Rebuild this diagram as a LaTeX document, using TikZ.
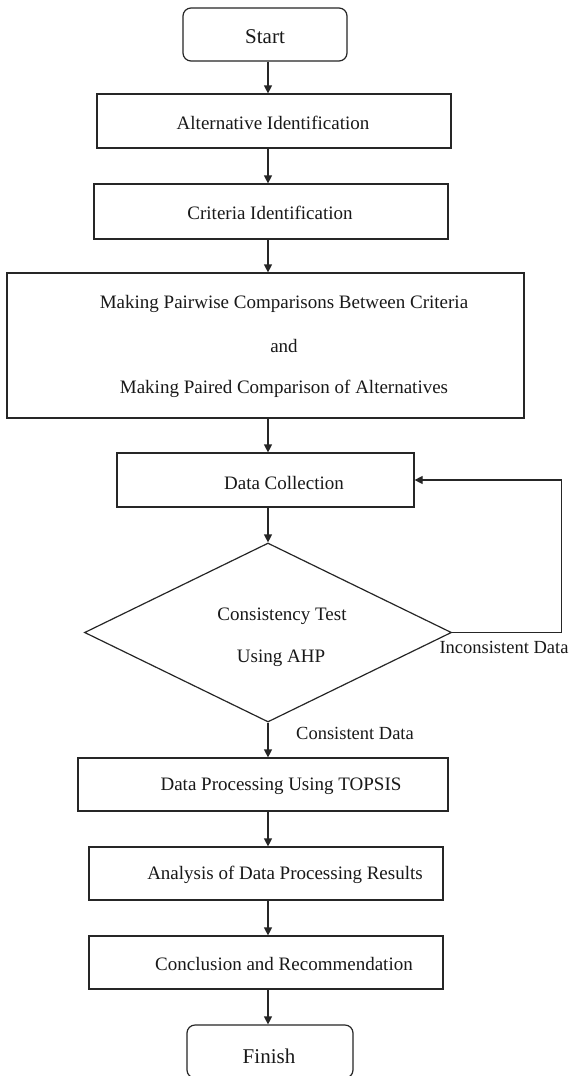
\documentclass[tikz,border=0pt]{standalone}
\usepackage{fontspec}
\setmainfont{Liberation Serif}
\usetikzlibrary{shapes.geometric,arrows.meta}
\begin{document}
\begin{tikzpicture}[x=1pt,y=-1pt,
  box/.style={draw=black!85,line width=1.2pt,rectangle,inner sep=0pt},
  term/.style={box,rounded corners=8pt},
  txt/.style={inner sep=0pt,font=\fontsize{19}{23}\selectfont,text=black!90},
  big/.style={inner sep=0pt,font=\fontsize{21}{25}\selectfont,text=black!90},
  lbl/.style={inner sep=0pt,font=\fontsize{18.5}{22}\selectfont,text=black!90},
  arr/.style={draw=black!85,line width=1.2pt,-{Triangle[length=8pt,width=8pt]}}]
\useasboundingbox (0,0) rectangle (571,1076);
\fill[white] (0,0) rectangle (571,1076);
\coordinate (col) at (268,0);
% boxes
\node[term,minimum width=164pt,minimum height=53pt] (start) at (265,34.5) {};
\node[box,minimum width=354pt,minimum height=54pt] (alt) at (274,121) {};
\node[box,minimum width=354pt,minimum height=55pt] (crit) at (271,211.5) {};
\node[box,minimum width=517pt,minimum height=145pt] (pair) at (265.5,345.5) {};
\node[box,minimum width=297pt,minimum height=54pt] (dc) at (265.5,480) {};
\node[box,diamond,minimum width=367pt,minimum height=179pt] (dia) at (268,632.5) {};
\node[box,minimum width=370pt,minimum height=53pt] (tops) at (263,784.5) {};
\node[box,minimum width=354pt,minimum height=53pt] (anal) at (266,873.5) {};
\node[box,minimum width=354pt,minimum height=53pt] (concl) at (266,962.5) {};
\node[term,minimum width=166pt,minimum height=53pt] (fin) at (270,1051.5) {};
% texts
\node[big] (tstart) at (265,37) {Start};
\node[txt] (talt) at (273,123) {Alternative Identification};
\node[txt] (tcrit) at (270,213) {Criteria Identification};
\node[txt] (tpair1) at (284,304) {Making Pairwise Comparisons Between Criteria};
\node[txt] (tpair2) at (284,346) {and};
\node[txt] (tpair3) at (284,389) {Making Paired Comparison of Alternatives};
\node[txt] (tdc) at (284,483) {Data Collection};
\node[txt] (tdia1) at (282,616) {Consistency Test};
\node[txt] (tdia2) at (281,658) {Using AHP};
\node[txt] (ttops) at (281,786) {Data Processing Using TOPSIS};
\node[txt] (tanal) at (285,875) {Analysis of Data Processing Results};
\node[txt] (tconcl) at (284,964) {Conclusion and Recommendation};
\node[big] (tfin) at (269,1056) {Finish};
\node[lbl] (linc) at (504,647) {Inconsistent Data};
\node[lbl] (lcon) at (355,733) {Consistent Data};
% connectors
\draw[arr] (col |- start.south) -- (col |- alt.north);
\draw[arr] (col |- alt.south) -- (col |- crit.north);
\draw[arr] (col |- crit.south) -- (col |- pair.north);
\draw[arr] (col |- pair.south) -- (col |- dc.north);
\draw[arr] (col |- dc.south) -- (dia.north);
\draw[arr] (dia.south) -- (col |- tops.north);
\draw[arr] (col |- tops.south) -- (col |- anal.north);
\draw[arr] (col |- anal.south) -- (col |- concl.north);
\draw[arr] (col |- concl.south) -- (col |- fin.north);
\draw[arr] (dia.east) -- ++(109,0) |- (dc.east);
\end{tikzpicture}
\end{document}
